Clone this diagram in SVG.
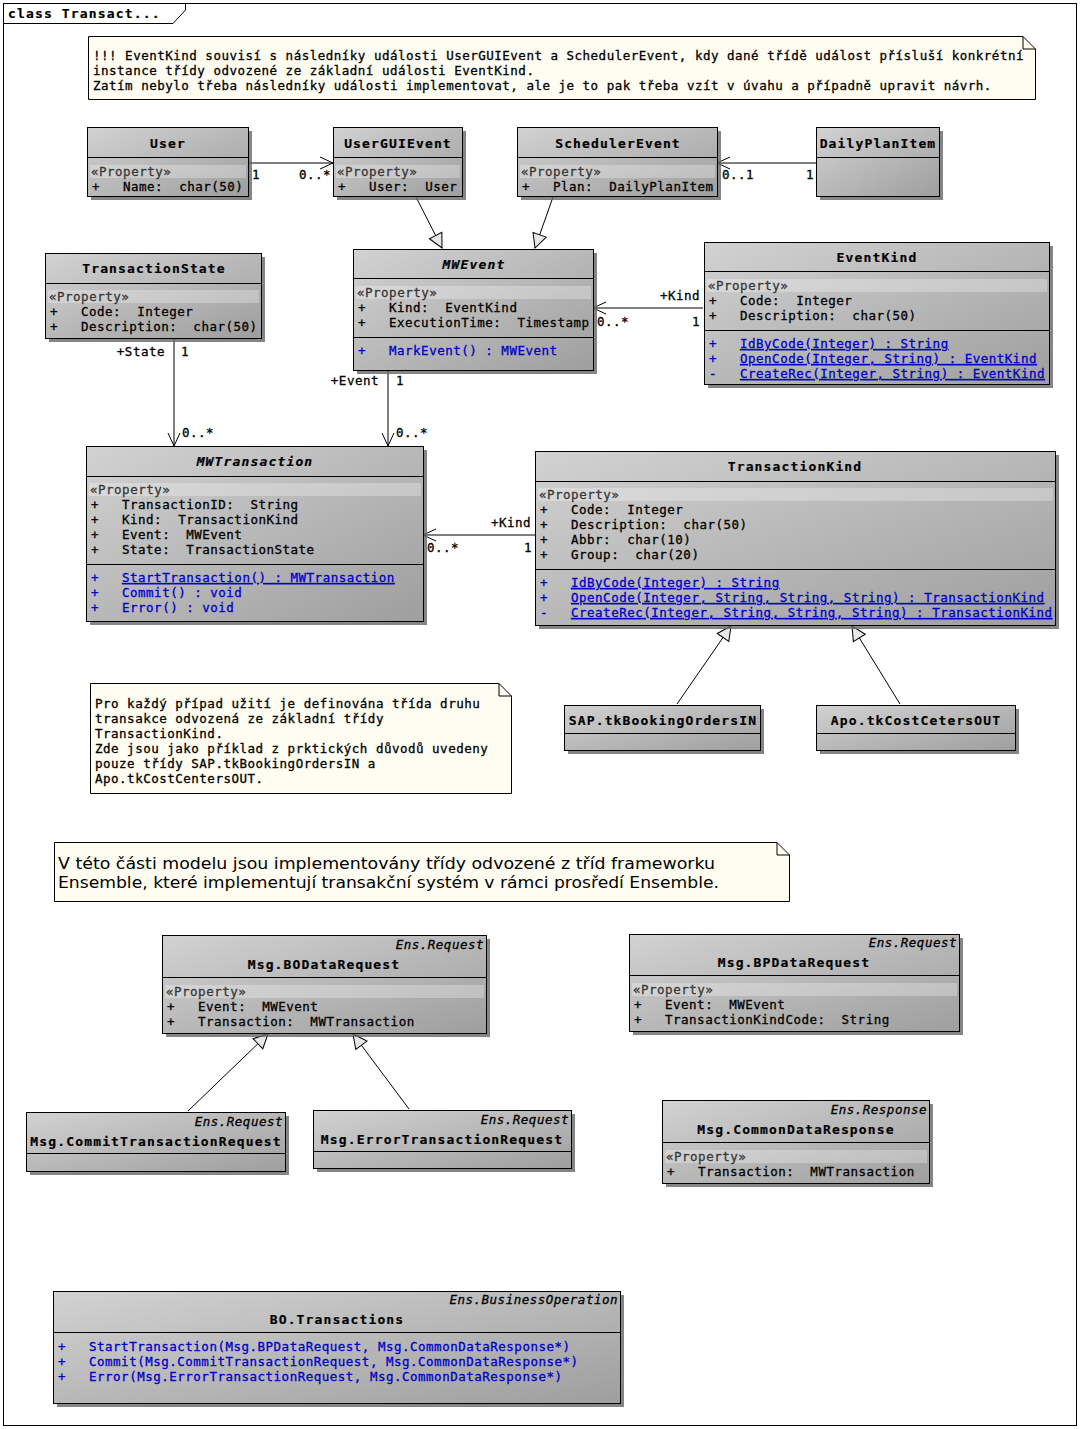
<svg xmlns="http://www.w3.org/2000/svg" width="1080" height="1429" viewBox="0 0 1080 1429" xml:space="preserve">
<defs>
<linearGradient id="g" x1="0" y1="0" x2="1" y2="1"><stop offset="0" stop-color="#d2d2d2"/><stop offset="1" stop-color="#9e9e9e"/></linearGradient>
<marker id="open" markerUnits="userSpaceOnUse" markerWidth="16" markerHeight="14" refX="13" refY="6" orient="auto" overflow="visible"><path d="M0,0 L13,6 L0,12" fill="none" stroke="#000" stroke-width="1"/></marker>
<marker id="tri" markerUnits="userSpaceOnUse" markerWidth="16" markerHeight="16" refX="14" refY="7" orient="auto" overflow="visible"><path d="M0,0 L14,7 L0,14 Z" fill="#e8e8e8" stroke="#000" stroke-width="1"/></marker>
<style>
.t{font-family:"DejaVu Sans Mono","Liberation Mono",monospace;font-size:12.5px;letter-spacing:0.5px;white-space:pre;fill:#000;stroke:#000;stroke-width:0.3px}
.b{font-weight:bold;font-size:13px;letter-spacing:1.15px;stroke-width:0.2px}
.bi{font-weight:bold;font-style:italic;font-size:13px;letter-spacing:1.15px;stroke-width:0.2px}
.i{font-style:italic}
.st{fill:#383838;stroke:#383838}
.m{fill:#0000c8;stroke:#0000c8}
.u{text-decoration:underline}
.box{fill:url(#g);stroke:#000;stroke-width:1}
.sh{fill:#666;opacity:0.8}
.dv{stroke:#000;stroke-width:1}
.band{fill:#ffffff;opacity:0.28}
.note{fill:#fffdf2;stroke:#000;stroke-width:1}
.fold{fill:none;stroke:#000;stroke-width:1}
.c{fill:none;stroke:#000;stroke-width:1}
.p{font-family:"DejaVu Sans","Verdana",sans-serif;font-size:16px;fill:#000}
</style>
</defs>
<rect x="0" y="0" width="1080" height="1429" fill="#fff"/>
<g id="frame">
<rect x="3.5" y="3.5" width="1073" height="1422" fill="none" stroke="#000"/>
<path d="M3.5,23.5 H173 L185.5,10 V3.5" fill="none" stroke="#000"/>
<text class="t b" x="8" y="18">class Transact...</text>
</g>

<g id="note1">
<path class="note" d="M88.5,36.5 H1023 L1035.5,49 V99.5 H88.5 Z"/>
<path class="fold" d="M1023,36.5 V49 H1035.5"/>
<text class="t" x="93" y="60">!!! EventKind souvisí s následníky události UserGUIEvent a SchedulerEvent, kdy dané třídě událost přísluší konkrétní</text>
<text class="t" x="93" y="75">instance třídy odvozené ze základní události EventKind.</text>
<text class="t" x="93" y="90">Zatím nebylo třeba následníky události implementovat, ale je to pak třeba vzít v úvahu a případně upravit návrh.</text>
</g>

<g id="connectors">
<path class="c" d="M248,163 H333" marker-end="url(#open)"/>
<path class="c" d="M816,163 H717" marker-end="url(#open)"/>
<path class="c" d="M703,308 H593" marker-end="url(#open)"/>
<path class="c" d="M174,338 V446" marker-end="url(#open)"/>
<path class="c" d="M388,370 V446" marker-end="url(#open)"/>
<path class="c" d="M535,535 H423" marker-end="url(#open)"/>
<path class="c" d="M416,197 L442,248" marker-end="url(#tri)"/>
<path class="c" d="M553,197 L535,248" marker-end="url(#tri)"/>
<path class="c" d="M677,704 L731,626" marker-end="url(#tri)"/>
<path class="c" d="M900,704 L852,626" marker-end="url(#tri)"/>
<path class="c" d="M188,1111 L268,1034" marker-end="url(#tri)"/>
<path class="c" d="M409,1109 L353,1034" marker-end="url(#tri)"/>
<text class="t" x="252" y="179">1</text>
<text class="t" x="299" y="179">0..*</text>
<text class="t" x="722" y="179">0..1</text>
<text class="t" x="806" y="179">1</text>
<text class="t" x="165" y="356" text-anchor="end">+State</text>
<text class="t" x="181" y="356">1</text>
<text class="t" x="182" y="437">0..*</text>
<text class="t" x="379" y="385" text-anchor="end">+Event</text>
<text class="t" x="396" y="385">1</text>
<text class="t" x="396" y="437">0..*</text>
<text class="t" x="660" y="300">+Kind</text>
<text class="t" x="597" y="326">0..*</text>
<text class="t" x="692" y="326">1</text>
<text class="t" x="491" y="527">+Kind</text>
<text class="t" x="427" y="552">0..*</text>
<text class="t" x="524" y="552">1</text>
</g>

<g id="User">
<rect class="sh" x="91" y="131" width="161" height="69"/>
<rect class="box" x="87.5" y="127.5" width="161" height="69"/>
<line class="dv" x1="87.5" y1="157.5" x2="248.5" y2="157.5"/>
<rect class="band" x="90" y="165" width="156" height="13"/>
<text class="t b" x="168" y="148" text-anchor="middle">User</text>
<text class="t st" x="91" y="176">«Property»</text>
<text class="t" x="92" y="191">+</text><text class="t" x="123" y="191">Name:  char(50)</text>
</g>

<g id="UserGUIEvent">
<rect class="sh" x="337" y="131" width="129" height="69"/>
<rect class="box" x="333.5" y="127.5" width="129" height="69"/>
<line class="dv" x1="333.5" y1="157.5" x2="462.5" y2="157.5"/>
<rect class="band" x="336" y="165" width="124" height="13"/>
<text class="t b" x="398" y="148" text-anchor="middle">UserGUIEvent</text>
<text class="t st" x="337" y="176">«Property»</text>
<text class="t" x="338" y="191">+</text><text class="t" x="369" y="191">User:  User</text>
</g>

<g id="SchedulerEvent">
<rect class="sh" x="521" y="131" width="200" height="69"/>
<rect class="box" x="517.5" y="127.5" width="200" height="69"/>
<line class="dv" x1="517.5" y1="157.5" x2="717.5" y2="157.5"/>
<rect class="band" x="520" y="165" width="195" height="13"/>
<text class="t b" x="618" y="148" text-anchor="middle">SchedulerEvent</text>
<text class="t st" x="521" y="176">«Property»</text>
<text class="t" x="522" y="191">+</text><text class="t" x="553" y="191">Plan:  DailyPlanItem</text>
</g>

<g id="DailyPlanItem">
<rect class="sh" x="820" y="131" width="123" height="69"/>
<rect class="box" x="816.5" y="127.5" width="123" height="69"/>
<line class="dv" x1="816.5" y1="157.5" x2="939.5" y2="157.5"/>
<text class="t b" x="878" y="148" text-anchor="middle">DailyPlanItem</text>
</g>

<g id="TransactionState">
<rect class="sh" x="49" y="257" width="216" height="85"/>
<rect class="box" x="45.5" y="253.5" width="216" height="85"/>
<line class="dv" x1="45.5" y1="283.5" x2="261.5" y2="283.5"/>
<rect class="band" x="48" y="290" width="211" height="13"/>
<text class="t b" x="154" y="273" text-anchor="middle">TransactionState</text>
<text class="t st" x="49" y="301">«Property»</text>
<text class="t" x="50" y="316">+</text><text class="t" x="81" y="316">Code:  Integer</text>
<text class="t" x="50" y="331">+</text><text class="t" x="81" y="331">Description:  char(50)</text>
</g>

<g id="MWEvent">
<rect class="sh" x="357" y="253" width="240" height="121"/>
<rect class="box" x="353.5" y="249.5" width="240" height="121"/>
<line class="dv" x1="353.5" y1="278.5" x2="593.5" y2="278.5"/>
<line class="dv" x1="353.5" y1="337.5" x2="593.5" y2="337.5"/>
<rect class="band" x="356" y="286" width="235" height="13"/>
<text class="t bi" x="474" y="269" text-anchor="middle">MWEvent</text>
<text class="t st" x="357" y="297">«Property»</text>
<text class="t" x="358" y="312">+</text><text class="t" x="389" y="312">Kind:  EventKind</text>
<text class="t" x="358" y="327">+</text><text class="t" x="389" y="327">ExecutionTime:  Timestamp</text>
<text class="t m" x="358" y="355">+</text><text class="t m" x="389" y="355">MarkEvent() : MWEvent</text>
</g>

<g id="EventKind">
<rect class="sh" x="708" y="246" width="345" height="142"/>
<rect class="box" x="704.5" y="242.5" width="345" height="142"/>
<line class="dv" x1="704.5" y1="271.5" x2="1049.5" y2="271.5"/>
<line class="dv" x1="704.5" y1="330.5" x2="1049.5" y2="330.5"/>
<rect class="band" x="707" y="279" width="340" height="13"/>
<text class="t b" x="877" y="262" text-anchor="middle">EventKind</text>
<text class="t st" x="708" y="290">«Property»</text>
<text class="t" x="709" y="305">+</text><text class="t" x="740" y="305">Code:  Integer</text>
<text class="t" x="709" y="320">+</text><text class="t" x="740" y="320">Description:  char(50)</text>
<text class="t m" x="709" y="348">+</text><text class="t m u" x="740" y="348">IdByCode(Integer) : String</text>
<text class="t m" x="709" y="363">+</text><text class="t m u" x="740" y="363">OpenCode(Integer, String) : EventKind</text>
<text class="t m" x="709" y="378">-</text><text class="t m u" x="740" y="378">CreateRec(Integer, String) : EventKind</text>
</g>

<g id="MWTransaction">
<rect class="sh" x="90" y="450" width="337" height="175"/>
<rect class="box" x="86.5" y="446.5" width="337" height="175"/>
<line class="dv" x1="86.5" y1="476.5" x2="423.5" y2="476.5"/>
<line class="dv" x1="86.5" y1="564.5" x2="423.5" y2="564.5"/>
<rect class="band" x="89" y="483" width="332" height="13"/>
<text class="t bi" x="255" y="466" text-anchor="middle">MWTransaction</text>
<text class="t st" x="90" y="494">«Property»</text>
<text class="t" x="91" y="509">+</text><text class="t" x="122" y="509">TransactionID:  String</text>
<text class="t" x="91" y="524">+</text><text class="t" x="122" y="524">Kind:  TransactionKind</text>
<text class="t" x="91" y="539">+</text><text class="t" x="122" y="539">Event:  MWEvent</text>
<text class="t" x="91" y="554">+</text><text class="t" x="122" y="554">State:  TransactionState</text>
<text class="t m" x="91" y="582">+</text><text class="t m u" x="122" y="582">StartTransaction() : MWTransaction</text>
<text class="t m" x="91" y="597">+</text><text class="t m" x="122" y="597">Commit() : void</text>
<text class="t m" x="91" y="612">+</text><text class="t m" x="122" y="612">Error() : void</text>
</g>

<g id="TransactionKind">
<rect class="sh" x="539" y="455" width="520" height="174"/>
<rect class="box" x="535.5" y="451.5" width="520" height="174"/>
<line class="dv" x1="535.5" y1="481.5" x2="1055.5" y2="481.5"/>
<line class="dv" x1="535.5" y1="569.5" x2="1055.5" y2="569.5"/>
<rect class="band" x="538" y="488" width="515" height="13"/>
<text class="t b" x="795" y="471" text-anchor="middle">TransactionKind</text>
<text class="t st" x="539" y="499">«Property»</text>
<text class="t" x="540" y="514">+</text><text class="t" x="571" y="514">Code:  Integer</text>
<text class="t" x="540" y="529">+</text><text class="t" x="571" y="529">Description:  char(50)</text>
<text class="t" x="540" y="544">+</text><text class="t" x="571" y="544">Abbr:  char(10)</text>
<text class="t" x="540" y="559">+</text><text class="t" x="571" y="559">Group:  char(20)</text>
<text class="t m" x="540" y="587">+</text><text class="t m u" x="571" y="587">IdByCode(Integer) : String</text>
<text class="t m" x="540" y="602">+</text><text class="t m u" x="571" y="602">OpenCode(Integer, String, String, String) : TransactionKind</text>
<text class="t m" x="540" y="617">-</text><text class="t m u" x="571" y="617">CreateRec(Integer, String, String, String) : TransactionKind</text>
</g>

<g id="SAP.tkBookingOrdersIN">
<rect class="sh" x="568" y="709" width="196" height="45"/>
<rect class="box" x="564.5" y="705.5" width="196" height="45"/>
<line class="dv" x1="564.5" y1="733.5" x2="760.5" y2="733.5"/>
<text class="t b" x="663" y="725" text-anchor="middle">SAP.tkBookingOrdersIN</text>
</g>

<g id="Apo.tkCostCetersOUT">
<rect class="sh" x="820" y="709" width="199" height="45"/>
<rect class="box" x="816.5" y="705.5" width="199" height="45"/>
<line class="dv" x1="816.5" y1="733.5" x2="1015.5" y2="733.5"/>
<text class="t b" x="916" y="725" text-anchor="middle">Apo.tkCostCetersOUT</text>
</g>

<g id="note2">
<path class="note" d="M90.5,683.5 H499 L511.5,696 V793.5 H90.5 Z"/>
<path class="fold" d="M499,683.5 V696 H511.5"/>
<text class="t" x="95" y="708">Pro každý případ užití je definována třída druhu</text>
<text class="t" x="95" y="723">transakce odvozená ze základní třídy</text>
<text class="t" x="95" y="738">TransactionKind.</text>
<text class="t" x="95" y="753">Zde jsou jako příklad z prktických důvodů uvedeny</text>
<text class="t" x="95" y="768">pouze třídy SAP.tkBookingOrdersIN a</text>
<text class="t" x="95" y="783">Apo.tkCostCentersOUT.</text>
</g>

<g id="note3">
<path class="note" d="M54.5,842.5 H777 L789.5,855 V901.5 H54.5 Z"/>
<path class="fold" d="M777,842.5 V855 H789.5"/>
<text class="p" x="58" y="869" textLength="657" lengthAdjust="spacingAndGlyphs">V této části modelu jsou implementovány třídy odvozené z tříd frameworku</text>
<text class="p" x="58" y="888" textLength="661" lengthAdjust="spacingAndGlyphs">Ensemble, které implementují transakční systém v rámci prosředí Ensemble.</text>
</g>

<g id="Msg.BODataRequest">
<rect class="sh" x="166" y="939" width="324" height="98"/>
<rect class="box" x="162.5" y="935.5" width="324" height="98"/>
<line class="dv" x1="162.5" y1="977.5" x2="486.5" y2="977.5"/>
<rect class="band" x="165" y="985" width="319" height="13"/>
<text class="t i" x="484" y="949" text-anchor="end">Ens.Request</text>
<text class="t b" x="324" y="969" text-anchor="middle">Msg.BODataRequest</text>
<text class="t st" x="166" y="996">«Property»</text>
<text class="t" x="167" y="1011">+</text><text class="t" x="198" y="1011">Event:  MWEvent</text>
<text class="t" x="167" y="1026">+</text><text class="t" x="198" y="1026">Transaction:  MWTransaction</text>
</g>

<g id="Msg.BPDataRequest">
<rect class="sh" x="633" y="938" width="330" height="97"/>
<rect class="box" x="629.5" y="934.5" width="330" height="97"/>
<line class="dv" x1="629.5" y1="975.5" x2="959.5" y2="975.5"/>
<rect class="band" x="632" y="983" width="325" height="13"/>
<text class="t i" x="957" y="947" text-anchor="end">Ens.Request</text>
<text class="t b" x="794" y="967" text-anchor="middle">Msg.BPDataRequest</text>
<text class="t st" x="633" y="994">«Property»</text>
<text class="t" x="634" y="1009">+</text><text class="t" x="665" y="1009">Event:  MWEvent</text>
<text class="t" x="634" y="1024">+</text><text class="t" x="665" y="1024">TransactionKindCode:  String</text>
</g>

<g id="Msg.CommitTransactionRequest">
<rect class="sh" x="30" y="1116" width="259" height="59"/>
<rect class="box" x="26.5" y="1112.5" width="259" height="59"/>
<line class="dv" x1="26.5" y1="1153.5" x2="285.5" y2="1153.5"/>
<text class="t i" x="283" y="1126" text-anchor="end">Ens.Request</text>
<text class="t b" x="156" y="1146" text-anchor="middle">Msg.CommitTransactionRequest</text>
</g>

<g id="Msg.ErrorTransactionRequest">
<rect class="sh" x="317" y="1114" width="258" height="58"/>
<rect class="box" x="313.5" y="1110.5" width="258" height="58"/>
<line class="dv" x1="313.5" y1="1151.5" x2="571.5" y2="1151.5"/>
<text class="t i" x="569" y="1124" text-anchor="end">Ens.Request</text>
<text class="t b" x="442" y="1144" text-anchor="middle">Msg.ErrorTransactionRequest</text>
</g>

<g id="Msg.CommonDataResponse">
<rect class="sh" x="666" y="1104" width="267" height="83"/>
<rect class="box" x="662.5" y="1100.5" width="267" height="83"/>
<line class="dv" x1="662.5" y1="1142.5" x2="929.5" y2="1142.5"/>
<rect class="band" x="665" y="1150" width="262" height="13"/>
<text class="t i" x="927" y="1114" text-anchor="end">Ens.Response</text>
<text class="t b" x="796" y="1134" text-anchor="middle">Msg.CommonDataResponse</text>
<text class="t st" x="666" y="1161">«Property»</text>
<text class="t" x="667" y="1176">+</text><text class="t" x="698" y="1176">Transaction:  MWTransaction</text>
</g>

<g id="BO.Transactions">
<rect class="sh" x="57" y="1295" width="567" height="112"/>
<rect class="box" x="53.5" y="1291.5" width="567" height="112"/>
<line class="dv" x1="53.5" y1="1332.5" x2="620.5" y2="1332.5"/>
<text class="t i" x="618" y="1304" text-anchor="end">Ens.BusinessOperation</text>
<text class="t b" x="337" y="1324" text-anchor="middle">BO.Transactions</text>
<text class="t m" x="58" y="1351">+</text><text class="t m" x="89" y="1351">StartTransaction(Msg.BPDataRequest, Msg.CommonDataResponse*)</text>
<text class="t m" x="58" y="1366">+</text><text class="t m" x="89" y="1366">Commit(Msg.CommitTransactionRequest, Msg.CommonDataResponse*)</text>
<text class="t m" x="58" y="1381">+</text><text class="t m" x="89" y="1381">Error(Msg.ErrorTransactionRequest, Msg.CommonDataResponse*)</text>
</g>
</svg>
